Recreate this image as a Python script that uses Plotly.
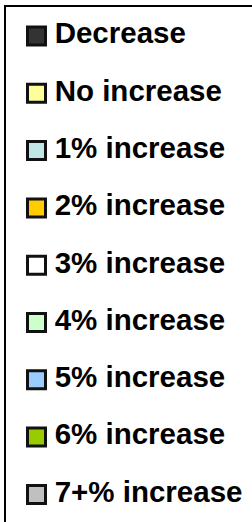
import plotly.graph_objects as go

labels = ["Decrease", "No increase", "1% increase", "2% increase", "3% increase",
          "4% increase", "5% increase", "6% increase", "7+% increase"]
colors = ["#333333", "#FFFF99", "#C0E6E6", "#FFCC00", "#FFFFFF",
          "#CCFFCC", "#99CCFF", "#99CC00", "#C0C0C0"]

W, H = 252, 522
swatch_px = 36.5      # pixel x of swatch centres
row0_px, row_step = 36.0, 57.3  # pixel y of first row and row pitch

fig = go.Figure()
fig.add_trace(go.Scatter(
    x=[0] * len(labels), y=labels, mode="markers+text",
    texttemplate="\u2009%{y}", textposition="middle right",
    textfont=dict(family="Liberation Sans", size=29.5, color="black", weight="bold"),
    marker=dict(symbol="square", size=18, color=colors,
                line=dict(color="#111111", width=3)),
    cliponaxis=False, hoverinfo="skip", showlegend=False))

# legend frame (left and top edges visible; box extends past the view)
fig.add_shape(type="rect", xref="paper", yref="paper",
              x0=5 / W, x1=1.2, y0=-0.2, y1=1 - 6 / H,
              line=dict(color="black", width=2), fillcolor="rgba(0,0,0,0)")

y_top = -row0_px / row_step
y_bot = (H - row0_px) / row_step
fig.update_layout(
    width=W, height=H,
    margin=dict(l=0, r=0, t=0, b=0, autoexpand=False),
    paper_bgcolor="white", plot_bgcolor="white",
    xaxis=dict(visible=False, range=[-swatch_px, W - swatch_px], fixedrange=True),
    yaxis=dict(visible=False, type="category", categoryorder="array",
               categoryarray=labels, range=[y_bot, y_top], fixedrange=True),
    showlegend=False)
fig.write_html("out.html", config={"displayModeBar": False},
               post_script="document.body.style.margin='0px';"
                           "document.body.style.overflow='hidden';")
